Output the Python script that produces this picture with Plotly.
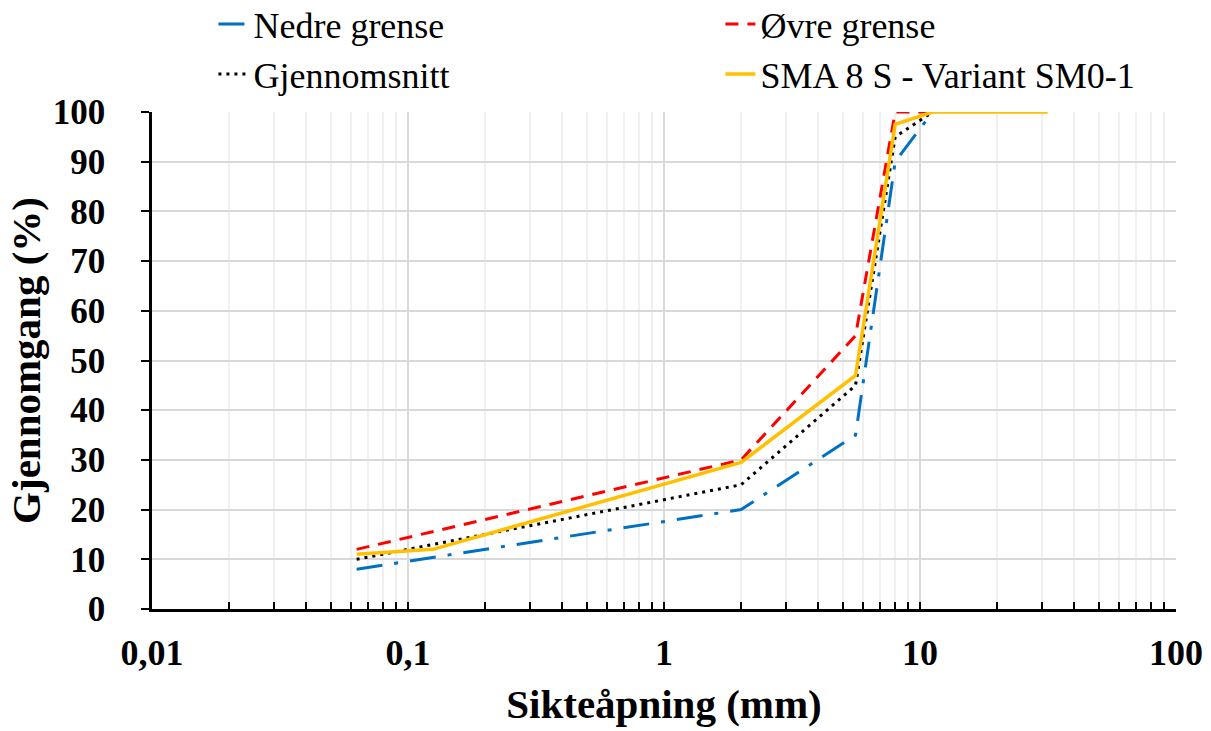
import plotly.graph_objects as go

# Sieve sizes (mm)
sizes_limits = [0.063, 2, 5.6, 8, 11.2]
sizes_mix = [0.063, 0.125, 2, 5.6, 8, 11.2, 16, 22.4, 31.5]

nedre = [8, 20, 35, 90, 100]
ovre = [12, 30, 55, 100, 100]
snitt = [10, 25, 45, 95, 100]
sma = [11, 12, 29.5, 47, 97.5, 100, 100, 100, 100]

x_tickvals = [0.01, 0.1, 1, 10, 100]
x_ticktext = ["0,01", "0,1", "1", "10", "100"]
minor_vals = [m * d for d in [0.01, 0.1, 1, 10] for m in range(2, 10)]

FONT = "Liberation Serif"

fig = go.Figure()
fig.add_trace(go.Scatter(x=sizes_limits, y=nedre, mode="lines", name="Nedre grense",
                         line=dict(color="#0070C0", width=3, dash="26px,12px,4px,12px")))
fig.add_trace(go.Scatter(x=sizes_limits, y=ovre, mode="lines", name="Øvre grense",
                         line=dict(color="#FF0000", width=3, dash="13px,9px")))
fig.add_trace(go.Scatter(x=sizes_limits, y=snitt, mode="lines", name="Gjennomsnitt",
                         line=dict(color="#000000", width=3, dash="3px,5px")))
fig.add_trace(go.Scatter(x=sizes_mix, y=sma, mode="lines", name="SMA 8 S - Variant SM0-1",
                         line=dict(color="#FFC000", width=3.5)))

fig.update_layout(
    width=1211, height=731,
    margin=dict(l=152, r=35, t=112, b=122, autoexpand=False),
    paper_bgcolor="white", plot_bgcolor="white",
    font=dict(family=FONT, color="black"),
    legend=dict(orientation="h", x=0.06, xanchor="left",
                xref="paper", yref="paper", y=1.237, yanchor="top",
                font=dict(size=36, family=FONT, color="black"),
                entrywidth=462, entrywidthmode="pixels", itemwidth=30,
                tracegroupgap=0, bgcolor="rgba(0,0,0,0)"),
    showlegend=True,
)

fig.update_xaxes(
    type="log", range=[-2, 2],
    tickmode="array", tickvals=x_tickvals, ticktext=x_ticktext,
    tickfont=dict(size=36, family=FONT, color="black", weight="bold"),
    ticks="inside", ticklen=7, tickwidth=2, tickcolor="black",
    ticklabelstandoff=10,
    showline=True, linecolor="black", linewidth=2.5,
    showgrid=True, gridcolor="#D9D9D9", gridwidth=2,
    minor=dict(tickmode="array", tickvals=minor_vals, ticks="inside", ticklen=7,
               tickwidth=2, tickcolor="black", showgrid=True, gridcolor="#F0F0F0", gridwidth=2),
    title=dict(text="<b>Sikteåpning (mm)</b>", font=dict(size=41, family=FONT, color="black"),
               standoff=18),
    zeroline=False,
)
fig.update_yaxes(
    range=[0, 100], dtick=10, tick0=0,
    tickfont=dict(size=35, family=FONT, color="black", weight="bold"),
    ticks="outside", ticklen=8, tickwidth=2, tickcolor="black",
    ticklabelstandoff=29,
    showline=True, linecolor="black", linewidth=2.5,
    showgrid=True, gridcolor="#D9D9D9", gridwidth=2,
    title=dict(text="<b>Gjennomgang (%)</b>", font=dict(size=41, family=FONT, color="black"),
               standoff=0),
    zeroline=False,
)

fig.write_html("out.html")
